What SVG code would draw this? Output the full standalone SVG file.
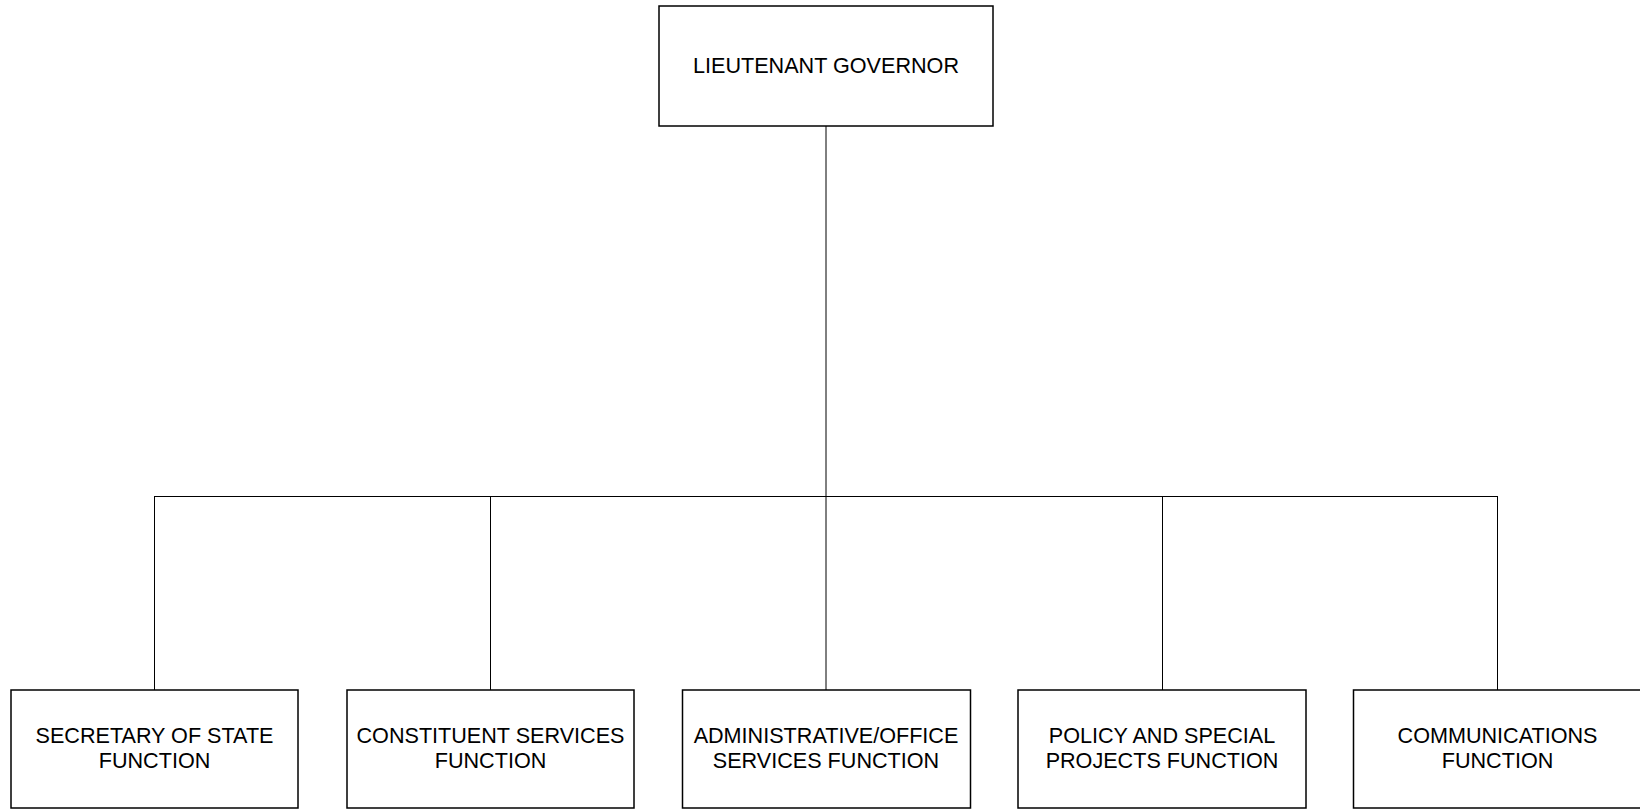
<svg xmlns="http://www.w3.org/2000/svg" width="1640" height="809" viewBox="0 0 1640 809">
<style>
.box{fill:#fff;stroke:#000;stroke-width:1.5}
.ln{fill:none;stroke:#000;stroke-width:1}
text{font-family:"Liberation Sans",Arial,sans-serif;font-size:21.6px;fill:#000;text-anchor:middle}
</style>
<rect width="1640" height="809" fill="#fff"/>
<g id="connectors">
<line class="ln" x1="826" y1="126" x2="826" y2="690"/>
<line class="ln" x1="154.5" y1="496.5" x2="1497.5" y2="496.5"/>
<line class="ln" x1="154.5" y1="496" x2="154.5" y2="690"/>
<line class="ln" x1="490.5" y1="496" x2="490.5" y2="690"/>
<line class="ln" x1="1162.5" y1="496" x2="1162.5" y2="690"/>
<line class="ln" x1="1497.5" y1="496" x2="1497.5" y2="690"/>
</g>
<g id="lieutenant-governor">
<rect class="box" x="659" y="6" width="334" height="120"/>
<text x="826" y="73">LIEUTENANT GOVERNOR</text>
</g>
<g id="secretary-of-state">
<rect class="box" x="11" y="690" width="287" height="118"/>
<text x="154.5" y="743">SECRETARY OF STATE</text>
<text x="154.5" y="768">FUNCTION</text>
</g>
<g id="constituent-services">
<rect class="box" x="347" y="690" width="287" height="118"/>
<text x="490.5" y="743">CONSTITUENT SERVICES</text>
<text x="490.5" y="768">FUNCTION</text>
</g>
<g id="administrative-office">
<rect class="box" x="682.5" y="690" width="288" height="118"/>
<text x="826" y="743">ADMINISTRATIVE/OFFICE</text>
<text x="826" y="768">SERVICES FUNCTION</text>
</g>
<g id="policy-special-projects">
<rect class="box" x="1018" y="690" width="288" height="118"/>
<text x="1162" y="743">POLICY AND SPECIAL</text>
<text x="1162" y="768">PROJECTS FUNCTION</text>
</g>
<g id="communications">
<rect class="box" x="1353.5" y="690" width="300" height="118"/>
<text x="1497.5" y="743">COMMUNICATIONS</text>
<text x="1497.5" y="768">FUNCTION</text>
</g>
</svg>
